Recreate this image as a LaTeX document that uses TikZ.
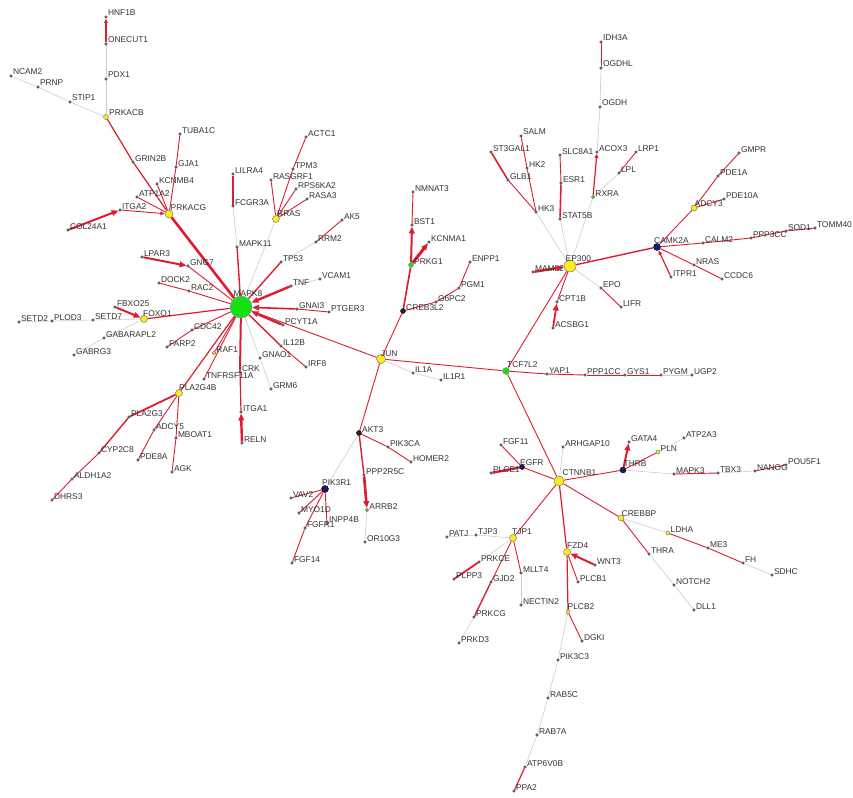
\documentclass[tikz,border=0pt]{standalone}
\usepackage{fontspec}
\setmainfont{Liberation Sans}
\usepackage{tikz}
\usetikzlibrary{arrows.meta, backgrounds}

\definecolor{edgered}{RGB}{222,28,48}
\definecolor{edgegray}{RGB}{204,204,204}
\definecolor{hubgreen}{RGB}{20,225,20}
\definecolor{hubyellow}{RGB}{250,236,30}
\definecolor{hubnavy}{RGB}{25,25,110}

\tikzset{
  gene/.style={circle, draw=black!70, fill=black!60, inner sep=0pt, minimum size=2.6pt},
  yhub/.style={circle, draw=black!60, fill=hubyellow, inner sep=0pt, minimum size=#1},
  ghub/.style={circle, draw=black!45, fill=hubgreen, inner sep=0pt, minimum size=#1},
  nhub/.style={circle, draw=black, fill=hubnavy, inner sep=0pt, minimum size=#1},
  khub/.style={circle, draw=black, fill=black!85, inner sep=0pt, minimum size=#1},
  lbl/.style={anchor=base west, inner sep=0pt, xshift=0.3pt, yshift=1pt, text=black!80, font=\fontsize{8.4}{10}\selectfont},
  rlink/.style={draw=edgered, line width=#1},
  rlink/.default=0.9pt,
  glink/.style={draw=edgegray, line width=0.6pt},
  arrowin/.style={-{Triangle[length=7pt, width=5.5pt]}},
  arrowsm/.style={-{Triangle[length=4.5pt, width=3.5pt]}}
}

\begin{document}
\begin{tikzpicture}[x=1pt, y=-1pt]
\useasboundingbox (0,0) rectangle (853,797);

% PRKACG / MAPK8 side
\node[gene, label={[lbl]0:HNF1B}] at (106, 17) (hnf1b) {};
\node[gene, label={[lbl]0:ONECUT1}] at (106, 44) (onecut1) {};
\node[gene, label={[lbl]0:PDX1}] at (106, 79) (pdx1) {};
\node[yhub=5pt, label={[lbl]0:PRKACB}] at (106, 117) (prkacb) {};
\node[gene, label={[lbl]0:NCAM2}] at (11, 76) (ncam2) {};
\node[gene, label={[lbl]0:PRNP}] at (38, 87) (prnp) {};
\node[gene, label={[lbl]0:STIP1}] at (70, 102) (stip1) {};
\node[gene, label={[lbl]0:TUBA1C}] at (180, 134) (tuba1c) {};
\node[gene, label={[lbl]0:GRIN2B}] at (133, 162) (grin2b) {};
\node[gene, label={[lbl]0:GJA1}] at (176, 167) (gja1) {};
\node[gene, label={[lbl]0:KCNMB4}] at (157, 184) (kcnmb4) {};
\node[gene, label={[lbl]0:ATP1A2}] at (137, 197) (atp1a2) {};
\node[gene, label={[lbl]0:LILRA4}] at (233, 174) (lilra4) {};
\node[gene, label={[lbl]0:FCGR3A}] at (233, 206) (fcgr3a) {};
\node[gene, label={[lbl]0:RASGRF1}] at (271, 180) (rasgrf1) {};
\node[gene, label={[lbl]0:ACTC1}] at (306, 137) (actc1) {};
\node[gene, label={[lbl]0:TPM3}] at (293, 169) (tpm3) {};
\node[gene, label={[lbl]0:RPS6KA2}] at (296, 189) (rps6ka2) {};
\node[gene, label={[lbl]0:RASA3}] at (307, 199) (rasa3) {};
\node[yhub=7pt, label={[lbl, xshift=-3pt, yshift=2pt]0:RRAS}] at (276, 219) (rras) {};
\node[gene, label={[lbl]0:AK5}] at (342, 220) (ak5) {};
\node[gene, label={[lbl]0:RRM2}] at (316, 242) (rrm2) {};
\node[gene, label={[lbl]0:ITGA2}] at (120, 210) (itga2) {};
\node[yhub=8pt, label={[lbl, xshift=-3pt, yshift=3pt]0:PRKACG}] at (169, 214) (prkacg) {};
\node[gene, label={[lbl]0:COL24A1}] at (68, 230) (col24a1) {};
\node[gene, label={[lbl]0:MAPK11}] at (237, 247) (mapk11) {};
\node[gene, label={[lbl]0:LPAR3}] at (142, 257) (lpar3) {};
\node[gene, label={[lbl]0:GNG7}] at (188, 266) (gng7) {};
\node[gene, label={[lbl]0:DOCK2}] at (159, 283) (dock2) {};
\node[gene, label={[lbl]0:RAC2}] at (189, 291) (rac2) {};
\node[ghub=22pt, label={[lbl, xshift=-19pt, yshift=10pt]0:MAPK8}] at (241, 307) (mapk8) {};
\node[gene, label={[lbl]0:TP53}] at (281, 262) (tp53) {};
\node[gene, label={[lbl]0:TNF}] at (291, 286) (tnf) {};
\node[gene, label={[lbl]0:VCAM1}] at (320, 279) (vcam1) {};
\node[gene, label={[lbl]0:GNAI3}] at (297, 309) (gnai3) {};
\node[gene, label={[lbl]0:PTGER3}] at (329, 312) (ptger3) {};
\node[gene, label={[lbl]0:PCYT1A}] at (283, 325) (pcyt1a) {};
\node[gene, label={[lbl]0:IL12B}] at (281, 346) (il12b) {};
\node[gene, label={[lbl]0:IRF8}] at (306, 367) (irf8) {};
\node[gene, label={[lbl]0:GNAO1}] at (260, 358) (gnao1) {};
\node[gene, label={[lbl]0:GRM6}] at (271, 389) (grm6) {};
\node[gene, label={[lbl]0:CRK}] at (240, 372) (crk) {};
\node[gene, label={[lbl]0:TNFRSF11A}] at (204, 379) (tnfrsf11a) {};
\node[yhub=3.5pt, label={[lbl]0:RAF1}] at (214, 353) (raf1) {};
\node[gene, label={[lbl]0:CDC42}] at (192, 330) (cdc42) {};
\node[gene, label={[lbl]0:FARP2}] at (167, 347) (farp2) {};
\node[gene, label={[lbl]0:FBXO25}] at (115, 307) (fbxo25) {};
\node[yhub=7pt, label={[lbl, xshift=-5pt, yshift=2pt]0:FOXO1}] at (144, 319) (foxo1) {};
\node[gene, label={[lbl]0:SETD2}] at (19, 322) (setd2) {};
\node[gene, label={[lbl]0:PLOD3}] at (52, 321) (plod3) {};
\node[gene, label={[lbl]0:SETD7}] at (93, 320) (setd7) {};
\node[gene, label={[lbl]0:GABARAPL2}] at (104, 338) (gabarapl2) {};
\node[gene, label={[lbl]0:GABRG3}] at (74, 355) (gabrg3) {};
\node[yhub=7pt, label={[lbl, xshift=-4pt, yshift=2pt]0:PLA2G4B}] at (179, 393) (pla2g4b) {};
\node[gene, label={[lbl]0:PLA2G3}] at (129, 417) (pla2g3) {};
\node[gene, label={[lbl]0:ADCY5}] at (154, 430) (adcy5) {};
\node[gene, label={[lbl]0:MBOAT1}] at (176, 438) (mboat1) {};
\node[gene, label={[lbl]0:CYP2C8}] at (99, 453) (cyp2c8) {};
\node[gene, label={[lbl]0:PDE8A}] at (138, 460) (pde8a) {};
\node[gene, label={[lbl]0:AGK}] at (172, 472) (agk) {};
\node[gene, label={[lbl]0:ALDH1A2}] at (72, 479) (aldh1a2) {};
\node[gene, label={[lbl]0:DHRS3}] at (52, 500) (dhrs3) {};
\node[gene, label={[lbl]0:ITGA1}] at (241, 412) (itga1) {};
\node[gene, label={[lbl]0:RELN}] at (242, 443) (reln) {};

% JUN / TCF7L2 middle
\node[gene, label={[lbl]0:NMNAT3}] at (413, 192) (nmnat3) {};
\node[gene, label={[lbl]0:BST1}] at (412, 225) (bst1) {};
\node[gene, label={[lbl]0:KCNMA1}] at (429, 242) (kcnma1) {};
\node[ghub=5pt, label={[lbl]0:PRKG1}] at (411, 265) (prkg1) {};
\node[gene, label={[lbl]0:ENPP1}] at (470, 262) (enpp1) {};
\node[gene, label={[lbl]0:PGM1}] at (459, 288) (pgm1) {};
\node[gene, label={[lbl]0:G6PC2}] at (436, 302) (g6pc2) {};
\node[khub=5pt, label={[lbl]0:CREB3L2}] at (403, 311) (creb3l2) {};
\node[yhub=9pt, label={[lbl, xshift=-5pt, yshift=2pt]0:JUN}] at (381, 359) (jun) {};
\node[gene, label={[lbl]0:IL1A}] at (413, 373) (il1a) {};
\node[gene, label={[lbl]0:IL1R1}] at (441, 380) (il1r1) {};
\node[ghub=7pt, label={[lbl, xshift=-3pt, yshift=3pt]0:TCF7L2}] at (506, 371) (tcf7l2) {};
\node[gene, label={[lbl]0:YAP1}] at (547, 374) (yap1) {};
\node[gene, label={[lbl]0:PPP1CC}] at (585, 375) (ppp1cc) {};
\node[gene, label={[lbl]0:GYS1}] at (625, 375) (gys1) {};
\node[gene, label={[lbl]0:PYGM}] at (661, 375) (pygm) {};
\node[gene, label={[lbl]0:UGP2}] at (692, 375) (ugp2) {};

% EP300 / CAMK2A side
\node[gene, label={[lbl]0:SALM}] at (521, 136) (salm) {};
\node[gene, label={[lbl]0:ST3GAL1}] at (491, 152) (st3gal1) {};
\node[gene, label={[lbl]0:HK2}] at (527, 168) (hk2) {};
\node[gene, label={[lbl]0:GLB1}] at (508, 180) (glb1) {};
\node[gene, label={[lbl]0:SLC8A1}] at (560, 155) (slc8a1) {};
\node[gene, label={[lbl]0:ESR1}] at (561, 183) (esr1) {};
\node[gene, label={[lbl]0:HK3}] at (536, 212) (hk3) {};
\node[gene, label={[lbl]0:STAT5B}] at (560, 219) (stat5b) {};
\node[gene, label={[lbl]0:IDH3A}] at (601, 42) (idh3a) {};
\node[gene, label={[lbl]0:OGDHL}] at (601, 68) (ogdhl) {};
\node[gene, label={[lbl]0:OGDH}] at (600, 107) (ogdh) {};
\node[gene, label={[lbl]0:ACOX3}] at (597, 152) (acox3) {};
\node[gene, label={[lbl]0:LRP1}] at (636, 152) (lrp1) {};
\node[gene, label={[lbl]0:LPL}] at (619, 173) (lpl) {};
\node[ghub=3.5pt, label={[lbl]0:RXRA}] at (593, 197) (rxra) {};
\node[yhub=12pt, label={[lbl, xshift=-11pt, yshift=4pt]0:EP300}] at (570, 266) (ep300) {};
\node[gene, label={[lbl]0:MAML2}] at (533, 272) (maml2) {};
\node[gene, label={[lbl]0:CPT1B}] at (557, 302) (cpt1b) {};
\node[gene, label={[lbl]0:ACSBG1}] at (553, 328) (acsbg1) {};
\node[gene, label={[lbl]0:EPO}] at (601, 288) (epo) {};
\node[gene, label={[lbl]0:LIFR}] at (621, 307) (lifr) {};
\node[gene, label={[lbl]0:GMPR}] at (739, 153) (gmpr) {};
\node[gene, label={[lbl]0:PDE1A}] at (718, 176) (pde1a) {};
\node[gene, label={[lbl]0:PDE10A}] at (724, 199) (pde10a) {};
\node[yhub=6pt, label={[lbl, xshift=-3pt, yshift=1pt]0:ADCY3}] at (694, 208) (adcy3) {};
\node[nhub=7pt, label={[lbl, xshift=-7pt, yshift=3pt]0:CAMK2A}] at (657, 247) (camk2a) {};
\node[gene, label={[lbl]0:CALM2}] at (703, 243) (calm2) {};
\node[gene, label={[lbl]0:PPP3CC}] at (751, 238) (ppp3cc) {};
\node[gene, label={[lbl]0:SOD1}] at (786, 231) (sod1) {};
\node[gene, label={[lbl]0:TOMM40}] at (815, 228) (tomm40) {};
\node[gene, label={[lbl]0:NRAS}] at (694, 265) (nras) {};
\node[gene, label={[lbl]0:ITPR1}] at (671, 277) (itpr1) {};
\node[gene, label={[lbl]0:CCDC6}] at (722, 279) (ccdc6) {};

% AKT3 branch
\node[khub=5pt, label={[lbl]0:AKT3}] at (359, 433) (akt3) {};
\node[gene, label={[lbl]0:PIK3CA}] at (388, 447) (pik3ca) {};
\node[gene, label={[lbl]0:HOMER2}] at (411, 462) (homer2) {};
\node[gene, label={[lbl]0:PPP2R5C}] at (364, 475) (ppp2r5c) {};
\node[nhub=7pt, label={[lbl, xshift=-7pt, yshift=3pt]0:PIK3R1}] at (325, 489) (pik3r1) {};
\node[gene, label={[lbl]0:VAV2}] at (291, 498) (vav2) {};
\node[gene, label={[lbl]0:MYO1D}] at (299, 513) (myo1d) {};
\node[gene, label={[lbl]0:INPP4B}] at (327, 523) (inpp4b) {};
\node[gene, label={[lbl]0:FGFR1}] at (305, 528) (fgfr1) {};
\node[gene, label={[lbl]0:FGF14}] at (292, 563) (fgf14) {};
\node[ghub=3.5pt, label={[lbl]0:ARRB2}] at (367, 510) (arrb2) {};
\node[gene, label={[lbl]0:OR10G3}] at (365, 542) (or10g3) {};

% CTNNB1 branch
\node[gene, label={[lbl]0:FGF11}] at (501, 445) (fgf11) {};
\node[nhub=5pt, label={[lbl, xshift=-5pt, yshift=1pt]0:EGFR}] at (522, 467) (egfr) {};
\node[gene, label={[lbl]0:PLCE1}] at (491, 473) (plce1) {};
\node[gene, label={[lbl]0:ARHGAP10}] at (563, 447) (arhgap10) {};
\node[yhub=10pt, label={[lbl, xshift=-2pt, yshift=5pt]0:CTNNB1}] at (559, 481) (ctnnb1) {};
\node[gene, label={[lbl]0:GATA4}] at (629, 442) (gata4) {};
\node[yhub=4pt, label={[lbl]0:PLN}] at (658, 452) (pln) {};
\node[gene, label={[lbl]0:ATP2A3}] at (684, 438) (atp2a3) {};
\node[nhub=6pt, label={[lbl, xshift=-3pt, yshift=3pt]0:THRB}] at (623, 470) (thrb) {};
\node[gene, label={[lbl]0:MAPK3}] at (674, 474) (mapk3) {};
\node[gene, label={[lbl]0:TBX3}] at (718, 473) (tbx3) {};
\node[gene, label={[lbl]0:NANOG}] at (755, 471) (nanog) {};
\node[gene, label={[lbl]0:POU5F1}] at (786, 465) (pou5f1) {};
\node[yhub=6pt, label={[lbl, xshift=-3pt, yshift=1pt]0:CREBBP}] at (621, 518) (crebbp) {};
\node[yhub=4pt, label={[lbl]0:LDHA}] at (668, 533) (ldha) {};
\node[gene, label={[lbl]0:ME3}] at (708, 548) (me3) {};
\node[gene, label={[lbl]0:FH}] at (743, 563) (fh) {};
\node[gene, label={[lbl]0:SDHC}] at (772, 575) (sdhc) {};
\node[gene, label={[lbl]0:THRA}] at (649, 554) (thra) {};
\node[gene, label={[lbl]0:NOTCH2}] at (674, 585) (notch2) {};
\node[gene, label={[lbl]0:DLL1}] at (694, 610) (dll1) {};
\node[yhub=7pt, label={[lbl, xshift=-5pt, yshift=3pt]0:TJP1}] at (513, 538) (tjp1) {};
\node[gene, label={[lbl]0:TJP3}] at (476, 535) (tjp3) {};
\node[gene, label={[lbl]0:PATJ}] at (447, 537) (patj) {};
\node[gene, label={[lbl]0:PRKCE}] at (479, 562) (prkce) {};
\node[gene, label={[lbl]0:PLPP3}] at (454, 579) (plpp3) {};
\node[gene, label={[lbl]0:GJD2}] at (491, 582) (gjd2) {};
\node[gene, label={[lbl]0:MLLT4}] at (521, 573) (mllt4) {};
\node[gene, label={[lbl]0:NECTIN2}] at (521, 605) (nectin2) {};
\node[gene, label={[lbl]0:PRKCG}] at (474, 617) (prkcg) {};
\node[gene, label={[lbl]0:PRKD3}] at (459, 643) (prkd3) {};
\node[yhub=7pt, label={[lbl, xshift=-4pt, yshift=3pt]0:FZD4}] at (567, 552) (fzd4) {};
\node[gene, label={[lbl]0:WNT3}] at (595, 565) (wnt3) {};
\node[gene, label={[lbl]0:PLCB1}] at (578, 582) (plcb1) {};
\node[yhub=4pt, label={[lbl, xshift=-3pt, yshift=2pt]0:PLCB2}] at (568, 612) (plcb2) {};
\node[gene, label={[lbl]0:DGKI}] at (582, 641) (dgki) {};
\node[gene, label={[lbl]0:PIK3C3}] at (558, 660) (pik3c3) {};
\node[gene, label={[lbl]0:RAB5C}] at (548, 698) (rab5c) {};
\node[gene, label={[lbl]0:RAB7A}] at (537, 735) (rab7a) {};
\node[gene, label={[lbl]0:ATP6V0B}] at (525, 767) (atp6v0b) {};
\node[gene, label={[lbl]0:PPA2}] at (514, 791) (ppa2) {};

\begin{scope}[on background layer]
% PRKACB / PRKACG
\draw [rlink=1.2pt, arrowsm] (onecut1) -- (hnf1b);
\draw [glink] (onecut1) -- (pdx1);
\draw [glink] (pdx1) -- (prkacb);
\draw [glink] (ncam2) -- (prnp);
\draw [glink] (prnp) -- (stip1);
\draw [glink] (stip1) -- (prkacb);
\draw [rlink=1.2pt] (prkacb) -- (grin2b);
\draw [rlink=1.2pt] (grin2b) -- (prkacg);
\draw [rlink] (tuba1c) -- (gja1);
\draw [rlink] (gja1) -- (prkacg);
\draw [rlink] (kcnmb4) -- (prkacg);
\draw [rlink] (atp1a2) -- (prkacg);
\draw [rlink, arrowsm] (itga2) -- (prkacg);
\draw [rlink=2pt, arrowin] (col24a1) -- (itga2);
\draw [rlink=2.6pt] (prkacg) -- (mapk8);
% spokes of MAPK8
\draw [rlink=1.6pt] (lilra4) -- (fcgr3a);
\draw [glink] (fcgr3a) -- (mapk11);
\draw [rlink=1.4pt] (mapk11) -- (mapk8);
\draw [rlink] (actc1) -- (tpm3);
\draw [rlink] (tpm3) -- (rras);
\draw [rlink] (rasgrf1) -- (rras);
\draw [rlink] (rps6ka2) -- (rras);
\draw [rlink] (rasa3) -- (rras);
\draw [glink] (rras) -- (mapk8);
\draw [rlink] (ak5) -- (rrm2);
\draw [glink] (rrm2) -- (tp53);
\draw [rlink=1.4pt] (tp53) -- (mapk8);
\draw [glink] (vcam1) -- (tnf);
\draw [rlink=2.4pt, arrowin] (tnf) -- (mapk8);
\draw [rlink] (ptger3) -- (gnai3);
\draw [rlink=1.6pt, arrowin] (gnai3) -- (mapk8);
\draw [rlink=2.4pt, arrowin] (pcyt1a) -- (mapk8);
\draw [rlink] (irf8) -- (il12b);
\draw [rlink=1.4pt] (il12b) -- (mapk8);
\draw [glink] (grm6) -- (gnao1);
\draw [glink] (gnao1) -- (mapk8);
\draw [rlink=2pt] (crk) -- (mapk8);
\draw [rlink=1.2pt] (itga1) -- (crk);
\draw [rlink=2.4pt, arrowin] (reln) -- (itga1);
\draw [rlink] (tnfrsf11a) -- (mapk8);
\draw [rlink] (raf1) -- (mapk8);
\draw [rlink=1.2pt] (pla2g4b) -- (mapk8);
\draw [rlink] (farp2) -- (cdc42);
\draw [rlink] (cdc42) -- (mapk8);
\draw [rlink=1.2pt] (foxo1) -- (mapk8);
\draw [rlink=2pt, arrowin] (fbxo25) -- (foxo1);
\draw [glink] (setd2) -- (plod3);
\draw [glink] (plod3) -- (setd7);
\draw [glink] (setd7) -- (foxo1);
\draw [glink] (gabrg3) -- (gabarapl2);
\draw [glink] (gabarapl2) -- (foxo1);
\draw [rlink] (dock2) -- (rac2);
\draw [rlink] (rac2) -- (mapk8);
\draw [rlink=2pt, arrowin] (lpar3) -- (gng7);
\draw [rlink] (gng7) -- (mapk8);
% PLA2G4B branch
\draw [rlink=1.8pt] (pla2g3) -- (pla2g4b);
\draw [rlink=1.4pt] (cyp2c8) -- (pla2g3);
\draw [rlink] (aldh1a2) -- (cyp2c8);
\draw [rlink] (dhrs3) -- (aldh1a2);
\draw [rlink] (adcy5) -- (pla2g4b);
\draw [rlink] (pde8a) -- (adcy5);
\draw [rlink] (mboat1) -- (pla2g4b);
\draw [rlink] (agk) -- (mboat1);
% JUN
\draw [rlink] (mapk8) -- (jun);
\draw [rlink] (creb3l2) -- (jun);
\draw [rlink=1.6pt] (prkg1) -- (creb3l2);
\draw [rlink=2pt, arrowin] (prkg1) -- (bst1);
\draw [rlink=3pt, arrowin] (prkg1) -- (kcnma1);
\draw [rlink] (nmnat3) -- (bst1);
\draw [rlink] (enpp1) -- (pgm1);
\draw [rlink] (pgm1) -- (g6pc2);
\draw [rlink] (g6pc2) -- (creb3l2);
\draw [glink] (jun) -- (il1a);
\draw [glink] (il1a) -- (il1r1);
\draw [rlink] (jun) -- (tcf7l2);
\draw [rlink] (jun) -- (akt3);
\draw [rlink] (tcf7l2) -- (yap1);
\draw [rlink] (yap1) -- (ppp1cc);
\draw [rlink] (ppp1cc) -- (gys1);
\draw [rlink] (gys1) -- (pygm);
\draw [glink] (pygm) -- (ugp2);
\draw [rlink] (tcf7l2) -- (ep300);
\draw [rlink] (tcf7l2) -- (ctnnb1);
% EP300
\draw [rlink=1.6pt] (st3gal1) -- (glb1);
\draw [rlink] (glb1) -- (hk3);
\draw [rlink] (salm) -- (hk2);
\draw [rlink] (hk2) -- (hk3);
\draw [glink] (hk3) -- (ep300);
\draw [rlink] (slc8a1) -- (esr1);
\draw [rlink=1.6pt] (esr1) -- (stat5b);
\draw [glink] (stat5b) -- (ep300);
\draw [rlink] (idh3a) -- (ogdhl);
\draw [glink] (ogdhl) -- (ogdh);
\draw [glink] (ogdh) -- (acox3);
\draw [rlink=1.2pt, arrowsm] (rxra) -- (acox3);
\draw [rlink] (lrp1) -- (lpl);
\draw [glink] (lpl) -- (rxra);
\draw [glink] (rxra) -- (ep300);
\draw [rlink=2.4pt, arrowin] (maml2) -- (ep300);
\draw [rlink] (cpt1b) -- (ep300);
\draw [rlink=1.8pt, arrowin] (acsbg1) -- (cpt1b);
\draw [glink] (ep300) -- (epo);
\draw [rlink] (epo) -- (lifr);
\draw [rlink=1.4pt] (ep300) -- (camk2a);
% CAMK2A
\draw [rlink] (gmpr) -- (pde1a);
\draw [rlink] (pde1a) -- (adcy3);
\draw [rlink] (pde10a) -- (adcy3);
\draw [rlink] (adcy3) -- (camk2a);
\draw [rlink] (camk2a) -- (calm2);
\draw [rlink] (calm2) -- (ppp3cc);
\draw [rlink] (ppp3cc) -- (sod1);
\draw [rlink] (sod1) -- (tomm40);
\draw [rlink] (camk2a) -- (nras);
\draw [rlink] (nras) -- (ccdc6);
\draw [rlink=1.2pt, arrowsm] (itpr1) -- (camk2a);
% AKT3
\draw [rlink] (akt3) -- (pik3ca);
\draw [rlink] (pik3ca) -- (homer2);
\draw [rlink=1.4pt] (akt3) -- (ppp2r5c);
\draw [rlink=2.6pt, arrowin] (ppp2r5c) -- (arrb2);
\draw [glink] (arrb2) -- (or10g3);
\draw [glink] (akt3) -- (pik3r1);
\draw [rlink] (pik3r1) -- (vav2);
\draw [rlink] (pik3r1) -- (myo1d);
\draw [rlink] (pik3r1) -- (inpp4b);
\draw [rlink] (pik3r1) -- (fgfr1);
\draw [rlink] (fgfr1) -- (fgf14);
% CTNNB1
\draw [rlink] (ctnnb1) -- (egfr);
\draw [rlink] (fgf11) -- (egfr);
\draw [rlink=2.4pt] (plce1) -- (egfr);
\draw [glink] (arhgap10) -- (ctnnb1);
\draw [rlink] (ctnnb1) -- (thrb);
\draw [rlink=2pt, arrowin] (thrb) -- (gata4);
\draw [rlink] (thrb) -- (pln);
\draw [glink] (pln) -- (atp2a3);
\draw [glink] (thrb) -- (mapk3);
\draw [rlink] (mapk3) -- (tbx3);
\draw [glink] (tbx3) -- (nanog);
\draw [rlink] (nanog) -- (pou5f1);
\draw [rlink] (ctnnb1) -- (crebbp);
\draw [glink] (crebbp) -- (ldha);
\draw [rlink] (ldha) -- (me3);
\draw [rlink] (me3) -- (fh);
\draw [glink] (fh) -- (sdhc);
\draw [rlink] (crebbp) -- (thra);
\draw [glink] (thra) -- (notch2);
\draw [glink] (notch2) -- (dll1);
\draw [rlink] (ctnnb1) -- (tjp1);
\draw [glink] (tjp1) -- (tjp3);
\draw [glink] (tjp3) -- (patj);
\draw [glink] (tjp1) -- (prkce);
\draw [rlink=1.8pt] (prkce) -- (plpp3);
\draw [rlink] (tjp1) -- (gjd2);
\draw [rlink=1.4pt] (gjd2) -- (prkcg);
\draw [glink] (prkcg) -- (prkd3);
\draw [rlink] (tjp1) -- (mllt4);
\draw [glink] (mllt4) -- (nectin2);
\draw [rlink=1.2pt] (ctnnb1) -- (fzd4);
\draw [rlink=2pt, arrowin] (wnt3) -- (fzd4);
\draw [rlink] (fzd4) -- (plcb1);
\draw [rlink=1.2pt] (fzd4) -- (plcb2);
\draw [rlink] (plcb2) -- (dgki);
\draw [glink] (plcb2) -- (pik3c3);
\draw [glink] (pik3c3) -- (rab5c);
\draw [glink] (rab5c) -- (rab7a);
\draw [glink] (rab7a) -- (atp6v0b);
\draw [rlink=1.2pt] (atp6v0b) -- (ppa2);
\end{scope}
\end{tikzpicture}
\end{document}
